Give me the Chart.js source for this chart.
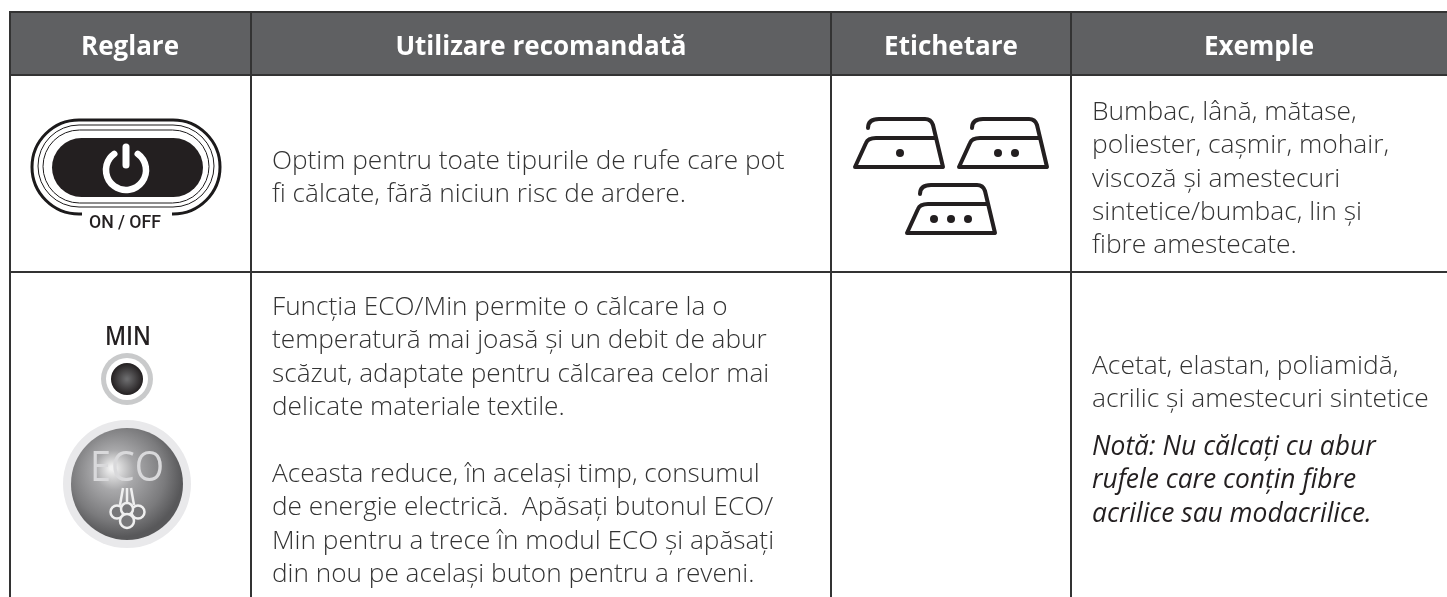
<!DOCTYPE html>
<html lang="ro">
<head>
<meta charset="utf-8">
<title>Reglare</title>
<style>
  html, body { margin: 0; background: #fff; }
  canvas { display: block; }
</style>
<script src="https://cdn.jsdelivr.net/npm/chart.js@4/dist/chart.umd.min.js"></script>
</head>
<body>
<canvas id="table" width="1447" height="597"></canvas>
<script>
const columnEdges = [10, 251, 831, 1071];
const rowEdges = [12, 75, 272];
const headerBand = [{ x: 10, y: 75 }, { x: 1447, y: 75 }];

const headers = ['Reglare', 'Utilizare recomandată', 'Etichetare', 'Exemple'];
const useRow1 = ['Optim pentru toate tipurile de rufe care pot', 'fi călcate, fără niciun risc de ardere.'];
const useRow2a = [
  'Funcția ECO/Min permite o călcare la o',
  'temperatură mai joasă şi un debit de abur',
  'scăzut, adaptate pentru călcarea celor mai',
  'delicate materiale textile.'
];
const useRow2b = [
  'Aceasta reduce, în acelaşi timp, consumul',
  'de energie electrică.  Apăsați butonul ECO/',
  'Min pentru a trece în modul ECO şi apăsați',
  'din nou pe acelaşi buton pentru a reveni.'
];
const examplesRow1 = [
  'Bumbac, lână, mătase,',
  'poliester, caşmir, mohair,',
  'viscoză şi amestecuri',
  'sintetice/bumbac, lin şi',
  'fibre amestecate.'
];
const examplesRow2 = ['Acetat, elastan, poliamidă,', 'acrilic şi amestecuri sintetice'];
const noteRow2 = ['Notă: Nu călcați cu abur', 'rufele care conțin fibre', 'acrilice sau modacrilice.'];
const ironDots = [1, 2, 3];

const USE_FONT = '300 26.2px "Open Sans"';
const EXAMPLE_FONT = '300 26.4px "Open Sans"';
const NOTE_FONT = 'italic 400 26.4px "Open Sans"';
const LINE_GAP = 33.3;

function textBlock(ctx, lines, x, y, font, color) {
  ctx.font = font;
  ctx.fillStyle = color || '#333';
  ctx.textAlign = 'left';
  ctx.textBaseline = 'alphabetic';
  lines.forEach((line, i) => {
    ctx.fillText(line, x, y + i * LINE_GAP);
  });
}

function stadium(ctx, x0, y0, x1, y1) {
  const r = (y1 - y0) / 2;
  ctx.beginPath();
  ctx.arc(x0 + r, y0 + r, r, Math.PI / 2, Math.PI * 1.5);
  ctx.arc(x1 - r, y0 + r, r, -Math.PI / 2, Math.PI / 2);
  ctx.closePath();
}

function drawPowerButton(ctx) {
  ctx.strokeStyle = '#1c1a1b';
  ctx.lineWidth = 3;
  stadium(ctx, 32, 120, 220, 214);
  ctx.stroke();
  ctx.fillStyle = '#fff';
  ctx.fillRect(82, 209, 90, 9);

  ctx.lineWidth = 1;
  stadium(ctx, 38, 125, 214, 207);
  ctx.stroke();
  stadium(ctx, 43, 130, 209, 203);
  ctx.stroke();
  ctx.fillStyle = '#231f20';
  stadium(ctx, 52, 138, 203, 197);
  ctx.fill();

  ctx.font = '500 18px "Roboto"';
  ctx.textAlign = 'center';
  ctx.textBaseline = 'alphabetic';
  ctx.fillStyle = '#231f20';
  ctx.fillText('ON / OFF', 125, 228, 72);

  ctx.strokeStyle = '#fff';
  ctx.lineCap = 'round';
  ctx.lineWidth = 6.5;
  ctx.beginPath();
  ctx.arc(126, 170, 20, -Math.PI * 0.3, -Math.PI * 0.7);
  ctx.stroke();
  ctx.lineWidth = 7;
  ctx.beginPath();
  ctx.moveTo(126, 147);
  ctx.lineTo(126, 165);
  ctx.stroke();
  ctx.lineCap = 'butt';
}

function drawIron(ctx, ox, oy, dots) {
  ctx.save();
  ctx.translate(ox, oy);
  ctx.strokeStyle = '#231f20';
  ctx.fillStyle = '#231f20';
  ctx.lineWidth = 4;
  ctx.lineCap = 'round';
  ctx.lineJoin = 'round';
  ctx.beginPath();
  ctx.moveTo(13, -39);
  ctx.quadraticCurveTo(13, -48, 24, -48);
  ctx.lineTo(70, -48);
  ctx.quadraticCurveTo(76, -48, 78, -42);
  ctx.lineTo(88, 0);
  ctx.lineTo(0, 0);
  ctx.lineTo(11, -24);
  ctx.quadraticCurveTo(13, -29, 21, -29);
  ctx.lineTo(81, -29);
  ctx.stroke();
  const spots = { 1: [45], 2: [39, 56], 3: [27, 44, 61] }[dots];
  spots.forEach(dx => {
    ctx.beginPath();
    ctx.arc(dx, -14, 4, 0, Math.PI * 2);
    ctx.fill();
  });
  ctx.restore();
}

function drawMinLed(ctx) {
  ctx.font = '600 27px "Open Sans"';
  ctx.textAlign = 'center';
  ctx.textBaseline = 'alphabetic';
  ctx.fillStyle = '#231f20';
  ctx.fillText('MIN', 128, 345, 46);
  ctx.fillStyle = '#c9cacb';
  ctx.beginPath();
  ctx.arc(127, 379, 26, 0, Math.PI * 2);
  ctx.fill();
  ctx.fillStyle = '#fff';
  ctx.beginPath();
  ctx.arc(127, 379, 21, 0, Math.PI * 2);
  ctx.fill();
  const g = ctx.createRadialGradient(127, 379, 1, 127, 379, 16);
  g.addColorStop(0, '#6b6b6d');
  g.addColorStop(1, '#231f20');
  ctx.fillStyle = g;
  ctx.beginPath();
  ctx.arc(127, 379, 16, 0, Math.PI * 2);
  ctx.fill();
}

function drawEcoBadge(ctx) {
  ctx.fillStyle = '#e9e9eb';
  ctx.beginPath();
  ctx.arc(127, 484, 64, 0, Math.PI * 2);
  ctx.fill();
  const g = ctx.createRadialGradient(112, 468, 2, 120, 475, 62);
  g.addColorStop(0, '#f1f1f1');
  g.addColorStop(0.3, '#a8a8aa');
  g.addColorStop(0.75, '#7b7b7d');
  g.addColorStop(1, '#58585a');
  ctx.fillStyle = g;
  ctx.beginPath();
  ctx.arc(127, 484, 56, 0, Math.PI * 2);
  ctx.fill();
  ctx.font = '400 42px "Open Sans"';
  ctx.textAlign = 'center';
  ctx.textBaseline = 'alphabetic';
  ctx.fillStyle = '#d9d9db';
  ctx.fillText('ECO', 127, 481, 74);

  // steam lines and the cloud of the ECO symbol
  ctx.strokeStyle = '#efefef';
  ctx.lineWidth = 2.5;
  [[123, 488, 120, 505], [127, 488, 127, 503], [131, 488, 134, 505]].forEach(l => {
    ctx.beginPath();
    ctx.moveTo(l[0], l[1]);
    ctx.lineTo(l[2], l[3]);
    ctx.stroke();
  });
  ctx.fillStyle = '#78787a';
  [[117, 512, 6.5], [138, 512, 6.5], [127, 509, 6], [127, 521, 7]].forEach(c => {
    ctx.beginPath();
    ctx.arc(c[0], c[1], c[2], 0, Math.PI * 2);
    ctx.fill();
    ctx.stroke();
  });
}

const tableContent = {
  id: 'tableContent',
  afterDraw(chart) {
    const ctx = chart.ctx;
    ctx.save();

    const centers = [130, 541, 951, 1259];
    ctx.font = '700 26px "Open Sans"';
    ctx.fillStyle = '#fff';
    ctx.textAlign = 'center';
    ctx.textBaseline = 'alphabetic';
    headers.forEach((label, i) => {
      ctx.fillText(label, centers[i], 55);
    });

    textBlock(ctx, useRow1, 272, 169, USE_FONT);
    textBlock(ctx, useRow2a, 272, 315, USE_FONT);
    textBlock(ctx, useRow2b, 272, 482, USE_FONT);
    textBlock(ctx, examplesRow1, 1092, 120, EXAMPLE_FONT);
    textBlock(ctx, examplesRow2, 1092, 374, EXAMPLE_FONT);
    textBlock(ctx, noteRow2, 1092, 455, NOTE_FONT, '#231f20');

    drawPowerButton(ctx);
    drawIron(ctx, 855, 167, ironDots[0]);
    drawIron(ctx, 959, 167, ironDots[1]);
    drawIron(ctx, 907, 233, ironDots[2]);
    drawMinLed(ctx);
    drawEcoBadge(ctx);
    ctx.restore();
  }
};

new Chart(document.getElementById('table'), {
  type: 'line',
  data: {
    datasets: [{
      data: headerBand,
      borderWidth: 0,
      pointRadius: 0,
      backgroundColor: '#5f6062',
      fill: { value: rowEdges[0] }
    }]
  },
  plugins: [tableContent],
  options: {
    responsive: false,
    animation: false,
    layout: { padding: { left: 9, top: 11, right: 0, bottom: 0 } },
    plugins: { legend: { display: false }, tooltip: { enabled: false } },
    scales: {
      x: {
        type: 'linear',
        min: 9,
        max: 1447,
        afterBuildTicks: axis => { axis.ticks = columnEdges.map(value => ({ value })); },
        ticks: { display: false },
        border: { display: false },
        grid: { color: '#333', lineWidth: 2, z: 1, drawTicks: false }
      },
      y: {
        type: 'linear',
        reverse: true,
        min: 11,
        max: 597,
        afterBuildTicks: axis => { axis.ticks = rowEdges.map(value => ({ value })); },
        ticks: { display: false },
        border: { display: false },
        grid: { color: '#333', lineWidth: 2, z: 1, drawTicks: false }
      }
    }
  }
});
</script>
</body>
</html>
